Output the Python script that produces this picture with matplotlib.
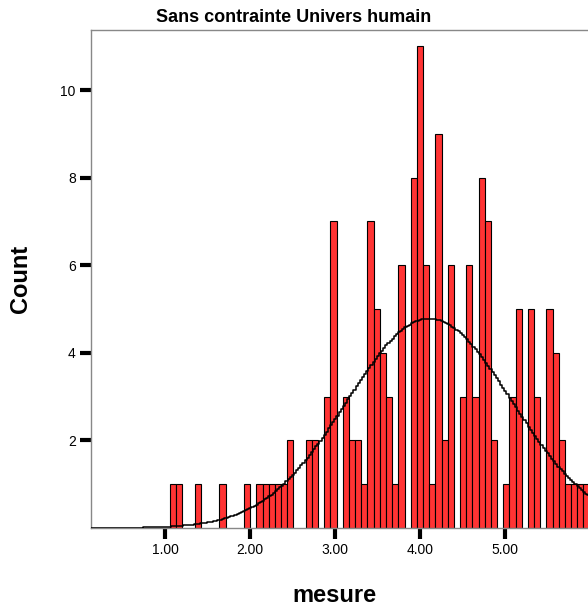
import matplotlib
matplotlib.use('Agg')
import matplotlib.pyplot as plt
import numpy as np

plt.rcParams['font.family'] = ['Liberation Sans', 'DejaVu Sans']

# histogram bins
bin_start = 1.0576
bin_width = 0.0726
counts = [1, 1, 0, 0, 1, 0, 0, 0, 1, 0, 0, 0, 1, 0, 1, 1, 1, 1, 1, 2,
          0, 0, 2, 2, 0, 3, 7, 0, 3, 2, 2, 1, 7, 5, 4, 3, 1, 6, 0, 8,
          11, 6, 1, 9, 2, 6, 0, 3, 6, 3, 8, 7, 2, 0, 1, 3, 5, 0, 5, 3,
          0, 5, 4, 2, 1, 1, 1, 1]

# normal curve parameters
curve_mean = 4.11
curve_sd = 0.97
curve_n = 160

x_ticks = [1, 2, 3, 4, 5]
x_labels = ['1.00', '2.00', '3.00', '4.00', '5.00']
y_ticks = [2, 4, 6, 8, 10]

counts = np.array(counts)
edges = bin_start + bin_width * np.arange(len(counts))
keep = counts > 0

fig = plt.figure(figsize=(5.88, 6.10), dpi=100)
ax = fig.add_axes([91 / 588, 82 / 610, 1 - 91 / 588, 498 / 610])

ax.bar(edges[keep], counts[keep], width=bin_width, align='edge',
       color='#ff3333', edgecolor='black', linewidth=0.8, zorder=2)

xmin, xmax = 0.128, 5.975
xs = np.arange(xmin, xmax + 0.025, 0.025)
ys = curve_n * bin_width * np.exp(-0.5 * ((xs - curve_mean) / curve_sd) ** 2) / (curve_sd * np.sqrt(2 * np.pi))
ax.step(xs, ys, where='mid', color='black', linewidth=1.1, zorder=3)

ax.set_xlim(xmin, xmax)
ax.set_ylim(0, 11.37)

ax.set_xticks(x_ticks)
ax.set_xticklabels(x_labels, fontsize=10)
ax.set_yticks(y_ticks)
ax.set_yticklabels([str(v) for v in y_ticks], fontsize=10)
ax.tick_params(axis='both', direction='out', length=8, width=3, color='black', pad=3)

for side in ['left', 'top', 'bottom']:
    ax.spines[side].set_color('#888888')
    ax.spines[side].set_linewidth(1)
ax.spines['right'].set_visible(False)

fig.text(0.5, 1 - 18 / 610, 'Sans contrainte Univers humain', ha='center', va='center',
         fontsize=13, fontweight='bold')
fig.text(20 / 588, 1 - 279 / 610, 'Count', ha='center', va='center', rotation=90,
         fontsize=17, fontweight='bold')
fig.text(334 / 588, 1 - 595 / 610, 'mesure', ha='center', va='center',
         fontsize=17, fontweight='bold')

fig.savefig('out.png', dpi=100)
